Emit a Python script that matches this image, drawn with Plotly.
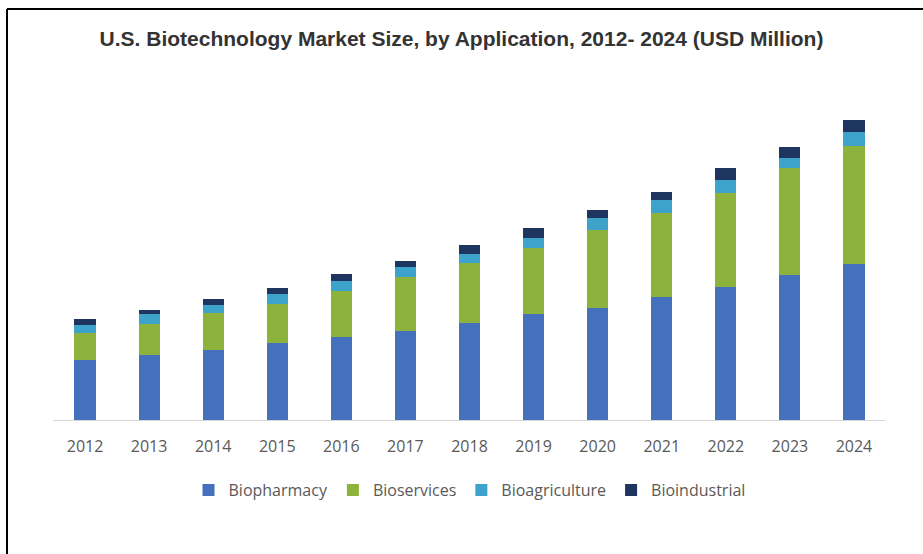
import plotly.graph_objects as go

years = ["2012", "2013", "2014", "2015", "2016", "2017", "2018",
         "2019", "2020", "2021", "2022", "2023", "2024"]

# Estimated values (USD Million)
biopharmacy = [29850, 32350, 34850, 38500, 41500, 44500, 48650,
               52850, 56150, 61500, 66500, 72350, 77850]
bioservices = [13800, 15800, 18800, 19350, 23000, 27000, 30000,
               33300, 38700, 42150, 47150, 53500, 59150]
bioagriculture = [3850, 4700, 3850, 5300, 5000, 5000, 4500,
                  5000, 6000, 6200, 6200, 5000, 7150]
bioindustrial = [2850, 2000, 3000, 3000, 3650, 3000, 4350,
                 4700, 4000, 4300, 6000, 5800, 5700]

series = [
    ("Biopharmacy", biopharmacy, "#4470BC"),
    ("Bioservices", bioservices, "#8DB33C"),
    ("Bioagriculture", bioagriculture, "#3DA3CB"),
    ("Bioindustrial", bioindustrial, "#1E3560"),
]

fig = go.Figure()
for name, vals, col in series:
    fig.add_trace(go.Bar(x=years, y=vals, name=name, marker_color=col,
                         marker_line_width=0))

fig.update_layout(
    width=923, height=554,
    barmode="stack", bargap=0.67,
    paper_bgcolor="white", plot_bgcolor="white",
    margin=dict(l=53, r=37, t=100, b=134),
    title=dict(text="<b>U.S. Biotechnology Market Size, by Application, 2012- 2024 (USD Million)</b>",
               x=0.5, xanchor="center", y=1 - 39 / 554, yanchor="middle",
               font=dict(family="Liberation Sans", size=21, color="#333333")),
    xaxis=dict(showline=True, linecolor="#D9D9D9", linewidth=1, showgrid=False,
               ticks="", tickfont=dict(family="Open Sans", size=16, color="#595959"),
               ticklabelstandoff=12),
    yaxis=dict(visible=False, range=[0, 160000]),
    legend=dict(orientation="h", x=0.5, xanchor="center", y=(554 - 490) / 554,
                yref="container", yanchor="middle",
                font=dict(family="Open Sans", size=16, color="#595959"),
                traceorder="normal"),
    shapes=[
        dict(type="line", xref="paper", yref="paper", x0=-46 / 833, x1=1.1,
             y0=1 + 91 / 320, y1=1 + 91 / 320, line=dict(color="black", width=2)),
        dict(type="line", xref="paper", yref="paper", x0=-46 / 833, x1=-46 / 833,
             y0=1 + 91 / 320, y1=-0.5, line=dict(color="black", width=2)),
    ],
)

fig.write_html("out.html", config={"displayModeBar": False},
               post_script="document.body.style.margin='0px';")
